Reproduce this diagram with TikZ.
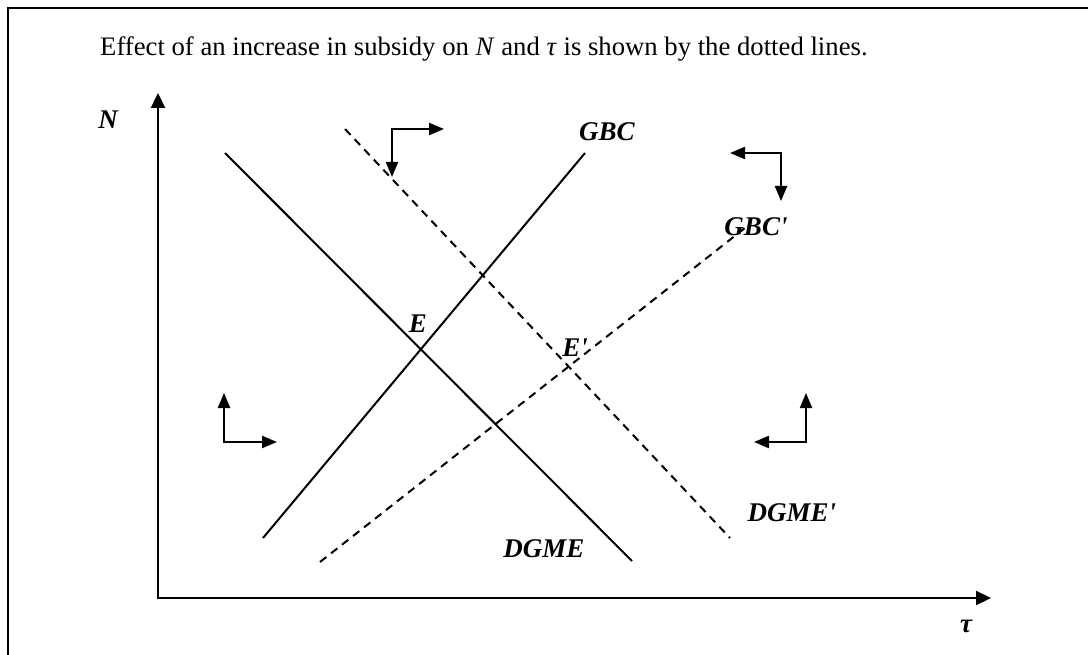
\documentclass[tikz,border=0pt]{standalone}
\usepackage{fontspec}
\setmainfont{Liberation Serif}
\newfontfamily\lblfont{Liberation Serif}[Ligatures=TeXOff]
\usetikzlibrary{arrows.meta}
\begin{document}
\begin{tikzpicture}[x=1pt,y=-1pt,
  lbl/.style={font=\lblfont\fontsize{27}{27}\selectfont\bfseries\itshape, inner sep=0pt},
  axis/.style={line width=2.3pt,{Triangle[length=15pt,width=14pt]}-{Triangle[length=15pt,width=14pt]}},
  curve/.style={line width=2pt},
  shifted/.style={line width=2pt, dash pattern=on 8pt off 6pt},
  move/.style={line width=2.2pt,{Triangle[length=15pt,width=12pt]}-{Triangle[length=15pt,width=12pt]}}]
\useasboundingbox (0,0) rectangle (1088,655);
\clip (0,0) rectangle (1088,655);
% frame (open to the right and bottom)
\draw[line width=2.2pt] (1100,8) -- (8,8) -- (8,670);

% caption
\node[anchor=base west, font=\fontsize{26.7}{27}\selectfont, inner sep=0pt] (title) at (100,56)
  {Effect of an increase in subsidy on \textit{N} and \textit{τ} is shown by the dotted lines.};

% axes
\coordinate (O) at (158,598);
\coordinate (Ntop) at (158,93);
\coordinate (Tend) at (991,598);
\draw[axis] (Ntop) -- (O) -- (Tend);
\node[lbl] (Nlab) at (108,120) {N};
\node[lbl] (taulab) at (966,626) {τ};

% original schedules
\coordinate (d1) at (225,153);  \coordinate (d2) at (632,561);
\coordinate (g1) at (263,538);  \coordinate (g2) at (585,153);
\draw[curve] (d1) -- (d2);
\draw[curve] (g1) -- (g2);

% schedules after the subsidy increase
\coordinate (dd1) at (345,129); \coordinate (dd2) at (730,538);
\coordinate (gg1) at (320,562); \coordinate (gg2) at (750,224);
\draw[shifted] (dd1) -- (dd2);
\draw[shifted] (gg1) -- (gg2);

% labels
\node[lbl] (gbc) at (607,132) {GBC};
\node[lbl] (gbcp) at (756,227) {GBC'};
\node[lbl] (dgme) at (544,549) {DGME};
\node[lbl] (dgmep) at (792,513) {DGME'};
\node[lbl] (E) at (418,324) {E};
\node[lbl] (Ep) at (575,348) {E'};

% adjustment arrows
\coordinate (c1) at (392,129); \coordinate (c1r) at (444,129); \coordinate (c1d) at (392,177);
\draw[move] (c1d) -- (c1) -- (c1r);
\coordinate (c2) at (781,153); \coordinate (c2l) at (730,153); \coordinate (c2d) at (781,201);
\draw[move] (c2l) -- (c2) -- (c2d);
\coordinate (c3) at (224,442); \coordinate (c3u) at (224,393); \coordinate (c3r) at (277,442);
\draw[move] (c3u) -- (c3) -- (c3r);
\coordinate (c4) at (806,442); \coordinate (c4u) at (806,393); \coordinate (c4l) at (754,442);
\draw[move] (c4u) -- (c4) -- (c4l);
\end{tikzpicture}
\end{document}
